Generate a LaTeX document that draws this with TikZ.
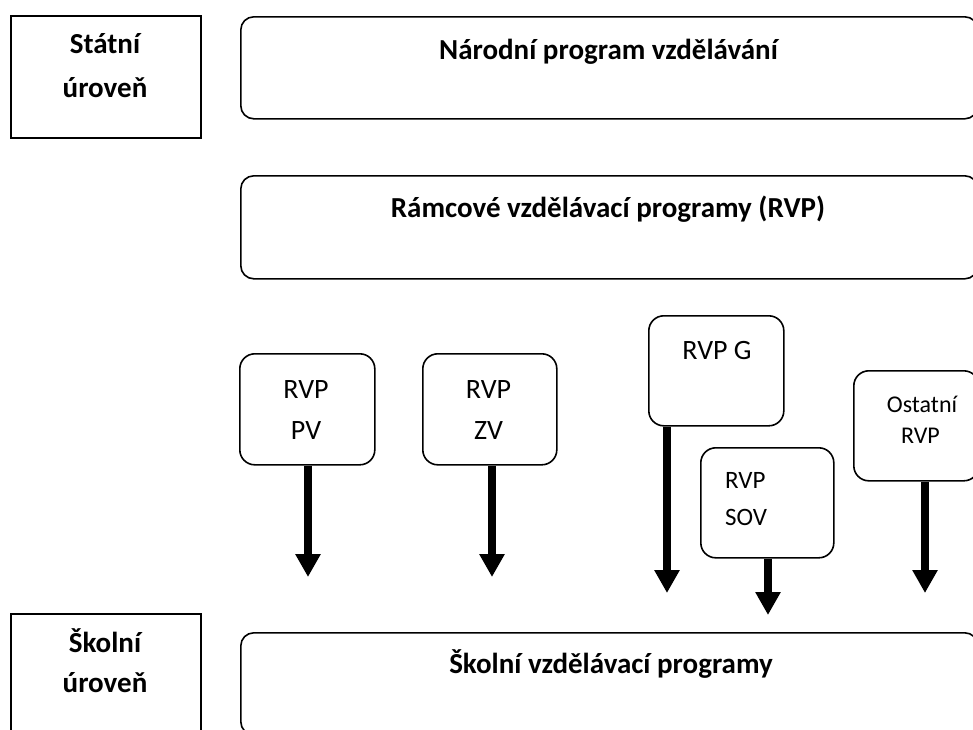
\documentclass[tikz,border=0pt]{standalone}
\usepackage{fontspec}
\setmainfont{Carlito}
\usetikzlibrary{arrows.meta}
\tikzset{
  lvlbox/.style={draw, line width=1.5pt, inner sep=0pt, anchor=north west},
  bigbox/.style={draw, line width=1.6pt, rounded corners=13pt, inner sep=0pt, anchor=north west},
  smallbox/.style={draw, line width=1.6pt, rounded corners=15pt, inner sep=0pt, anchor=north west},
  boldtxt/.style={font=\fontsize{29}{31}\selectfont\bfseries, anchor=base, inner sep=0pt},
  regtxt/.style={font=\fontsize{28}{30}\selectfont, anchor=base, inner sep=0pt},
  arr/.style={line width=8pt, -{Triangle[width=24pt,length=23pt]}}
}
\begin{document}
\begin{tikzpicture}[x=1pt,y=-1pt]
\useasboundingbox (0,0) rectangle (973,729);
% level boxes
\node[lvlbox, minimum width=190pt, minimum height=122pt] (stat) at (10,15) {};
\node[lvlbox, minimum width=190pt, minimum height=132pt] (skol) at (10,613) {};
% big boxes
\node[bigbox, minimum width=737pt, minimum height=102pt] (nar) at (240,16) {};
\node[bigbox, minimum width=737pt, minimum height=103pt] (ram) at (240,175) {};
\node[bigbox, minimum width=737pt, minimum height=102pt] (svp) at (240,632) {};
% small boxes
\node[smallbox, minimum width=135pt, minimum height=111pt] (pv) at (239,353) {};
\node[smallbox, minimum width=134pt, minimum height=111pt] (zv) at (422,353) {};
\node[smallbox, minimum width=135pt, minimum height=110pt] (g) at (648,315) {};
\node[smallbox, minimum width=133pt, minimum height=110pt] (sov) at (700,447) {};
\node[smallbox, minimum width=125pt, minimum height=110pt] (ost) at (853,370) {};
% texts
\node[boldtxt] (t1) at (105,53) {Státní};
\node[boldtxt] (t2) at (105,97) {úroveň};
\node[boldtxt] (t3) at (105,652) {Školní};
\node[boldtxt] (t4) at (105,692) {úroveň};
\node[boldtxt] (t5) at (608.5,59) {Národní program vzdělávání};
\node[boldtxt] (t6) at (608,217) {Rámcové vzdělávací programy (RVP)};
\node[boldtxt] (t7) at (611,673) {Školní vzdělávací programy};
\node[regtxt] (t8) at (306,398) {RVP};
\node[regtxt] (t9) at (306,439) {PV};
\node[regtxt] (t10) at (488.5,398) {RVP};
\node[regtxt] (t11) at (488.5,439) {ZV};
\node[regtxt] (t12) at (717,359) {RVP G};
\node[regtxt, font=\fontsize{25}{27}\selectfont, anchor=base west] (t13) at (725,488) {RVP};
\node[regtxt, font=\fontsize{25}{27}\selectfont, anchor=base west] (t14) at (725,525) {SOV};
\node[regtxt, font=\fontsize{24}{26}\selectfont] (t15) at (922,412) {Ostatní};
\node[regtxt, font=\fontsize{24}{26}\selectfont] (t16) at (920.5,443) {RVP};
% arrow ends
\coordinate (epv) at (308,577);
\coordinate (ezv) at (492,577);
\coordinate (eg) at (667,593);
\coordinate (esov) at (768,615);
\coordinate (eost) at (925,593);
\draw[arr] (epv |- pv.south) -- (epv);
\draw[arr] (ezv |- zv.south) -- (ezv);
\draw[arr] (eg |- g.south) -- (eg);
\draw[arr] (esov |- sov.south) -- (esov);
\draw[arr] (eost |- ost.south) -- (eost);
\end{tikzpicture}
\end{document}
